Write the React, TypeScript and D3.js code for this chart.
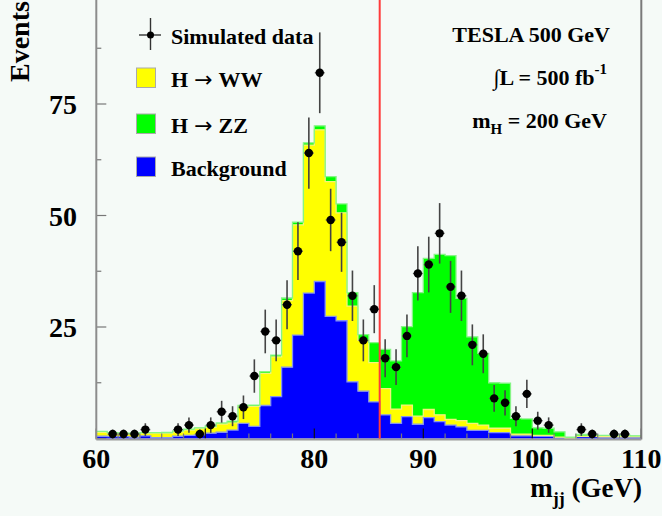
import React from 'react';
import * as d3 from 'd3';

// Bin lower edges (1 GeV bins from 60 to 110)
const binLow = d3.range(60, 110, 1);

// Stacked contributions per bin (events)
const background = [
  0.5, 0.4, 0.4, 0.3, 0.6, 0.2, 0.2, 0.5, 0.7, 0.8,
  1.2, 1.4, 1.9, 3.4, 2.7, 7.4, 9.4, 16.0, 23.2, 32.6,
  35.2, 27.4, 26.4, 12.7, 10.6, 8.2, 5.3, 3.4, 4.9, 3.2,
  4.7, 3.8, 3.0, 2.6, 1.8, 1.8, 1.3, 1.3, 0.6, 0.6,
  0.5, 0.5, 0.2, 0.05, 0.4, 0.4, 0.3, 0.3, 0.3, 0.3,
];
const hWW = [
  0.9, 0.7, 0.6, 0.7, 0.6, 1.0, 1.0, 1.0, 1.2, 1.4,
  1.3, 1.85, 1.6, 3.7, 4.5, 7.2, 8.9, 14.9, 24.7, 33.2,
  34.0, 30.2, 24.2, 17.0, 11.4, 8.8, 5.9, 3.2, 2.6, 1.8,
  1.8, 1.5, 1.3, 1.4, 1.6, 1.2, 1.0, 1.0, 0.4, 0.4,
  0.2, 0.2, 0.1, 0.05, 0.1, 0.1, 0.1, 0.1, 0.1, 0.1,
];
const hZZ = [
  0.2, 0.2, 0.2, 0.2, 0.1, 0.1, 0.15, 0.2, 0.2, 0.2,
  0.3, 0.25, 0.4, 0.3, 0.3, 0.4, 0.4, 0.6, 0.6, 0.5,
  0.9, 1.1, 2.0, 3.0, 1.3, 4.5, 8.8, 10.8, 17.6, 27.7,
  33.9, 36.0, 36.7, 27.4, 19.4, 16.1, 10.2, 10.1, 3.5, 3.4,
  1.7, 1.6, 1.2, 0.2, 0.4, 0.3, 0.3, 0.3, 0.3, 0.2,
];
// Simulated data counts per bin
const dataCounts = [
  0, 1, 1, 1, 2, 0, 0, 2, 3, 1,
  3, 6, 5, 7, 14, 24, 22, 30, 42, 64,
  82, 49, 44, 32, 22, 29, 18, 16, 23, 37,
  39, 46, 34, 32, 21, 19, 9, 8, 5, 10,
  4, 3, 0, 0, 2, 1, 0, 1, 1, 0,
];

const xTickLabels = [60, 70, 80, 90, 100, 110];
const yTickLabels = [25, 50, 75];
const cutValue = 86;
const legendItems: [string, string][] = [['H', 'WW'], ['H', 'ZZ'], ['Background', '']];
const legendColors = ['#ffff00', '#00ff00', '#0000ff'];

const W = 662;
const H = 516;
const FONT = '"Liberation Serif", "Times New Roman", serif';

const x = d3.scaleLinear().domain([60, 110]).range([96.3, 641.3]);
const y = d3.scaleLinear().domain([0, 100]).range([438.5, -7.5]);

type Pt = { x: number; y0: number; y1: number };

export default function App() {
  const rows = binLow.map((b, i) => ({ b, bg: background[i], ww: hWW[i], zz: hZZ[i] }));
  const stacked = d3.stack<any>().keys(['bg', 'ww', 'zz'])(rows);
  const stepPts = (layer: any[]): Pt[] =>
    layer.flatMap((d, i) => [
      { x: binLow[i], y0: d[0], y1: d[1] },
      { x: binLow[i] + 1, y0: d[0], y1: d[1] },
    ]);
  const area = d3.area<Pt>().x((p) => x(p.x)).y0((p) => y(p.y0)).y1((p) => y(p.y1));
  const topLine = d3.line<Pt>().x((p) => x(p.x)).y((p) => y(p.y1));
  const fills = ['#0000ff', '#ffff00', '#00ff00'];
  const strokes = ['#8593ee', '#f4f47a', '#86f586'];

  const minorX = d3.range(60, 111, 2);
  const minorY = d3.range(0, 100.1, 12.5);
  const y0 = y(0);
  const yTop = -10;

  return (
    <div style={{ position: 'absolute', left: 0, top: 0 }}>
      <svg width={W} height={H} style={{ display: 'block' }} fontFamily={FONT} fontWeight="bold">
        <rect x={0} y={0} width={W} height={H} fill="#f5faf7" />

        {/* stacked step histograms */}
        {stacked.map((layer, k) => (
          <path key={'a' + k} d={area(stepPts(layer as any)) || ''} fill={fills[k]} stroke="none" />
        ))}
        {stacked.map((layer, k) => (
          <path key={'l' + k} d={topLine(stepPts(layer as any)) || ''} fill="none" stroke={strokes[k]} strokeWidth={1.3} />
        ))}

        {/* x ticks */}
        {minorX.map((v) => {
          const major = v % 10 === 0;
          return (
            <line key={'xt' + v} x1={x(v)} x2={x(v)} y1={y0} y2={y0 - (major ? 10 : 5)}
              stroke={major ? '#111' : '#777'} strokeWidth={1.2} />
          );
        })}
        {/* y ticks */}
        {minorY.map((v) => {
          const major = v % 25 === 0;
          return (
            <line key={'yt' + v} x1={x(60)} x2={x(60) + (major ? 10 : 5)} y1={y(v)} y2={y(v)}
              stroke="#777" strokeWidth={1.2} />
          );
        })}

        {/* frame */}
        <line x1={x(60)} x2={x(60)} y1={yTop} y2={y0 + 1} stroke="#8c8c8c" strokeWidth={2} />
        <line x1={x(110)} x2={x(110)} y1={yTop} y2={y0 + 1} stroke="#7a7a7a" strokeWidth={2} />
        <line x1={x(60)} x2={x(110)} y1={y0 + 1} y2={y0 + 1} stroke="#9a9a9a" strokeWidth={2} />

        {/* cut line */}
        <line x1={x(cutValue)} x2={x(cutValue)} y1={yTop} y2={y0} stroke="#ff3b3b" strokeWidth={2} />

        {/* data points */}
        {dataCounts.map((n, i) => {
          if (n <= 0) return null;
          const cx = x(binLow[i] + 0.5);
          const e = Math.sqrt(n);
          return (
            <g key={'d' + i}>
              <line x1={cx} x2={cx} y1={y(n - e)} y2={y(n + e)} stroke="#444" strokeWidth={1.6} />
              <line x1={x(binLow[i]) + 0.5} x2={x(binLow[i] + 1) - 0.5} y1={y(n)} y2={y(n)} stroke="#666" strokeWidth={1.4} />
              <circle cx={cx} cy={y(n)} r={4.2} fill="#000" />
            </g>
          );
        })}

        {/* axis labels */}
        {xTickLabels.map((v) => (
          <text key={'xl' + v} x={x(v)} y={468} textAnchor="middle" fontSize={28} fill="#000">{v}</text>
        ))}
        {yTickLabels.map((v) => (
          <text key={'yl' + v} x={77} y={y(v) + 10} textAnchor="end" fontSize={28} fill="#000">{v}</text>
        ))}
        <text x={642} y={497} textAnchor="end" fontSize={27} fill="#000">
          m<tspan fontSize={18} dy={8}>jj</tspan><tspan dy={-8}> (GeV)</tspan>
        </text>
        <text transform="translate(29,82) rotate(-90)" fontSize={28} fill="#000">Events</text>

        {/* legend */}
        <line x1={139} x2={161} y1={35} y2={35} stroke="#333" strokeWidth={1.4} />
        <line x1={150.5} x2={150.5} y1={18} y2={50} stroke="#333" strokeWidth={1.4} />
        <circle cx={150.5} cy={35} r={3.5} fill="#000" />
        <text x={171} y={44} fontSize={22} fill="#000">Simulated data</text>
        {legendItems.map(([a, b], i) => {
          const by = [68, 114, 157][i];
          return (
            <g key={'lg' + i}>
              <rect x={136.5} y={by} width={19} height={19.5} fill={legendColors[i]} stroke="#aaa" strokeWidth={1} />
              <text x={171} y={by + 19} fontSize={22} fill="#000">
                {a}
                {b && (
                  <tspan fontFamily='"DejaVu Sans", sans-serif' fontWeight="normal" fontSize={22} dx={6}>{'\u2192'}</tspan>
                )}
                {b && <tspan dx={6}>{b}</tspan>}
              </text>
            </g>
          );
        })}

        {/* annotations */}
        <text x={610} y={42} textAnchor="end" fontSize={22} fill="#000">TESLA 500 GeV</text>
        <text x={607} y={85} textAnchor="end" fontSize={22} fill="#000">
          {'\u222BL = 500 fb'}<tspan fontSize={15} dy={-11}>-1</tspan>
        </text>
        <text x={607} y={128} textAnchor="end" fontSize={22} fill="#000">
          m<tspan fontSize={15} dy={6}>H</tspan><tspan dy={-6}> = 200 GeV</tspan>
        </text>
      </svg>
    </div>
  );
}
